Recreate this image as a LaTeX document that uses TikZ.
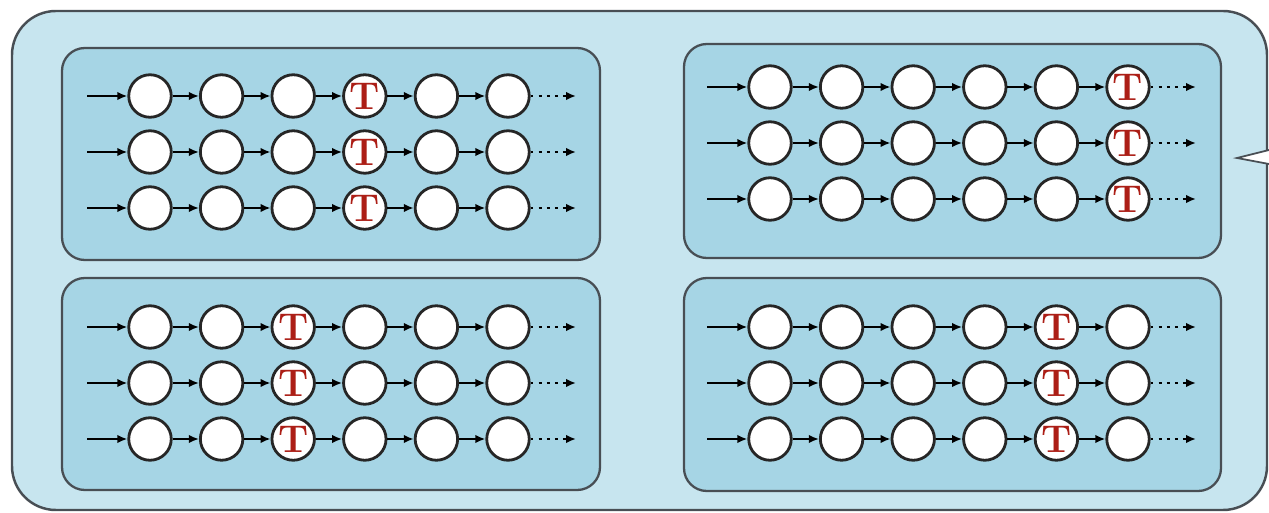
\documentclass[tikz,border=0pt]{standalone}
\usepackage{xcolor}
\usepackage{tikz}
\usetikzlibrary{arrows.meta, positioning}

\definecolor{outerblue}{RGB}{199,229,239}
\definecolor{panelblue}{RGB}{166,213,229}
\definecolor{rimgray}{RGB}{72,78,84}
\definecolor{tred}{RGB}{172,30,22}

\begin{document}
\begin{tikzpicture}[
  x=0.02cm, y=-0.02cm,
  cell/.style={circle, draw=black!85, line width=1.6pt, fill=white, minimum size=8.5mm,
    inner sep=0pt, text=tred, font=\fontsize{22}{22}\selectfont\bfseries},
  edge/.style={-{Latex[length=2mm, width=1.7mm]}, line width=1.1pt},
  more/.style={edge, dash pattern=on 1.6pt off 3pt},
  panel/.style={draw=rimgray, line width=1.3pt, fill=panelblue, rounded corners=13pt}
]
\useasboundingbox (0,0) rectangle (1269,513);

% outer frame and the pointer on its right side
\draw[draw=rimgray, line width=1.4pt, fill=outerblue, rounded corners=25pt] (12,11) rectangle (1267,510);
\draw[rimgray, line width=1pt, fill=white] (1269,150) -- (1237,158) -- (1269,164);

% four panels: name / corners / first cell / position of the T
\foreach \pn/\px/\py/\qx/\qy/\cx/\cy/\tk in {tl/62/48/600/260/150/96/4,
    tr/684/44/1221/258/770/87/6, bl/62/278/600/490/150/327/3, br/684/278/1221/491/770/327/5} {
  \draw[panel] (\px,\py) rectangle (\qx,\qy);
  \foreach \r in {1,2,3} {
    \coordinate (\pn-\r-in) at (\cx-63, \cy+56*\r-56);
    \coordinate (\pn-\r-out) at (\cx+71.6*5+68, \cy+56*\r-56);
    \foreach \k in {1,...,6} {
      \ifnum\k=\tk \def\lbl{T}\else\def\lbl{}\fi
      \node[cell] (\pn-\r-\k) at (\cx+71.6*\k-71.6, \cy+56*\r-56) {\lbl};
    }
    \draw[edge] (\pn-\r-in) -- (\pn-\r-1);
    \foreach \k in {2,...,6} {
      \pgfmathtruncatemacro\j{\k-1}
      \draw[edge] (\pn-\r-\j) -- (\pn-\r-\k);
    }
    \draw[more] (\pn-\r-6) -- (\pn-\r-out);
  }
}
\end{tikzpicture}
\end{document}
